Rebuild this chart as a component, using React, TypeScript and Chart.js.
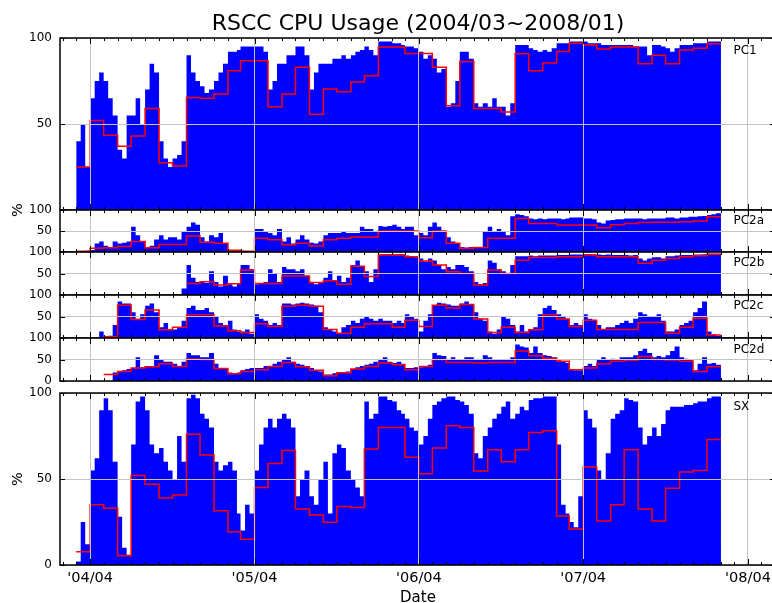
import React, { useEffect, useRef } from 'react';
import { Chart, registerables } from 'chart.js';

Chart.register(...registerables);

// ---------- categories / ticks ----------
const MONTHS = [
  '2004-03', '2004-04', '2004-05', '2004-06', '2004-07', '2004-08', '2004-09', '2004-10', '2004-11', '2004-12',
  '2005-01', '2005-02', '2005-03', '2005-04', '2005-05', '2005-06', '2005-07', '2005-08', '2005-09', '2005-10', '2005-11', '2005-12',
  '2006-01', '2006-02', '2006-03', '2006-04', '2006-05', '2006-06', '2006-07', '2006-08', '2006-09', '2006-10', '2006-11', '2006-12',
  '2007-01', '2007-02', '2007-03', '2007-04', '2007-05', '2007-06', '2007-07', '2007-08', '2007-09', '2007-10', '2007-11', '2007-12',
  '2008-01',
];
const DATA_END = '2008-02-01';
const X_MIN = '2004-01-25';
const X_MAX = '2008-05-31';
const YEAR_TICKS = ['2004-04-01', '2005-04-01', '2006-04-01', '2007-04-01', '2008-04-01'];
const YEAR_TICK_LABELS = ["'04/04", "'05/04", "'06/04", "'07/04", "'08/04"];
const Y_TICKS = [0, 50, 100];
const TITLE = 'RSCC CPU Usage (2004/03~2008/01)';
const X_TITLE = 'Date';
const Y_TITLE = '%';

// ---------- series: monthly averages (red) ----------
const PC1_MONTHLY = [
  25, 52, 43.5, 37, 43, 59, 27.5, 25.6, 65.4, 65,
  67.4, 81, 86.8, 86.8, 60, 67.4, 83, 55.7, 70.3, 68.7, 74.4, 78,
  94.8, 94.8, 91, 91, 83, 60.6, 86.4, 59, 59, 57, 90.9, 81,
  85.4, 92.2, 97, 96, 93.6, 94.8, 94.8, 85, 90, 85, 93, 94,
  96.7,
];
const PC2A_MONTHLY = [
  2, 9, 10, 13, 25, 10, 18, 18, 38, 23,
  21, 4, 2, 33, 29, 17, 21, 14, 29, 33, 36, 36,
  50, 50, 50, 34, 50, 21, 9, 11, 33, 33, 80, 68,
  68, 64, 64, 64, 58, 65, 68, 70, 71, 71, 72, 74,
  84,
];
const PC2B_MONTHLY = [
  null, null, null, null, null, null, null, null, 27, 31,
  23, 26, 58, 27, 27, 44, 44, 29, 33, 25, 67, 43,
  93, 93, 89, 79, 70, 54, 50, 23, 58, 50, 81, 87,
  87, 89, 89, 93, 89, 89, 89, 74, 81, 85, 89, 91,
  95,
];
const PC2C_MONTHLY = [
  null, null, 3, 76, 43, 65, 19, 25, 54, 54,
  28, 17, 13, 33, 27, 74, 76, 74, 20, 11, 25, 33,
  33, 25, 41, 27, 76, 70, 78, 44, 13, 25, 13, 19,
  54, 44, 27, 41, 20, 20, 20, 36, 36, 11, 25, 46,
  7,
];
const PC2D_MONTHLY = [
  null, null, 15, 22, 30, 33, 40, 34, 51, 50,
  29, 17, 22, 26, 34, 43, 33, 25, 12, 19, 28, 34,
  42, 38, 26, 34, 50, 43, 43, 42, 43, 43, 70, 59,
  53, 46, 26, 30, 40, 46, 48, 57, 50, 49, 46, 22,
  33,
];
const SX_MONTHLY = [
  7.7, 35, 33, 5.4, 52, 47, 39, 40.7, 76, 64,
  31.6, 19.4, 15, 45, 59, 66.5, 32.6, 29, 24.8, 34, 33.5, 67.4,
  80, 80, 62.6, 53, 68, 81, 80, 54.6, 67, 60, 67, 77,
  78, 28.5, 21, 57, 25.6, 35, 67, 32.6, 25.6, 44.6, 54, 55,
  73,
];

// ---------- series: ten-day usage (blue), 3 values per month ----------
const PC1_TENDAY = [
  40, 50, 25, 65, 75, 80, 75, 65, 55, 35, 30, 55, 55, 65, 50, 70, 85, 80, 40, 30, 25, 30, 32, 40, 90, 80, 75, 72, 68, 70,
  75, 80, 85, 92, 92, 93, 95, 95, 95, 95, 95, 92, 70, 75, 85, 85, 90, 90, 95, 95, 90, 70, 80, 85, 85, 85, 88, 88, 90, 88, 90, 92, 93, 95, 93, 90,
  98, 98, 98, 97, 97, 96, 95, 95, 94, 92, 88, 90, 88, 80, 82, 60, 62, 75, 92, 92, 88, 62, 60, 62, 60, 65, 60, 60, 55, 62, 96, 96, 96, 94, 93, 92,
  93, 92, 94, 97, 97, 97, 98, 98, 98, 98, 97, 97, 97, 96, 96, 96, 96, 96, 96, 96, 95, 95, 95, 90, 96, 96, 95, 94, 92, 94, 96, 96, 96, 97, 97, 97,
  98, 98, 98,
];
const PC2A_TENDAY = [
  1, 2, 3, 5, 20, 25, 15, 12, 25, 20, 22, 25, 60, 40, 25, 12, 15, 30, 40, 30, 35, 35, 30, 50, 60, 70, 65, 35, 25, 40,
  35, 45, 20, 5, 3, 2, 3, 2, 2, 55, 55, 50, 45, 40, 55, 25, 35, 20, 30, 40, 30, 22, 20, 25, 40, 45, 45, 45, 50, 45, 45, 45, 60, 55, 55, 50,
  62, 60, 62, 65, 60, 55, 60, 60, 40, 45, 40, 60, 70, 60, 50, 35, 25, 20, 12, 10, 12, 12, 12, 50, 60, 50, 55, 50, 40, 85, 90, 88, 85, 80, 78, 80,
  78, 80, 80, 80, 78, 80, 82, 82, 82, 80, 80, 78, 70, 68, 75, 76, 78, 78, 80, 80, 80, 80, 78, 80, 80, 80, 80, 82, 82, 80, 82, 82, 84, 84, 85, 86,
  88, 90, 92,
];
const PC2B_TENDAY = [
  0, 0, 0, 0, 0, 0, 0, 0, 0, 0, 0, 0, 0, 0, 0, 0, 0, 0, 0, 0, 0, 0, 0, 15, 70, 40, 30, 30, 28, 55,
  30, 20, 45, 25, 20, 28, 70, 70, 60, 25, 28, 30, 60, 50, 30, 65, 60, 60, 55, 60, 45, 30, 25, 30, 40, 55, 35, 45, 30, 40, 70, 80, 65, 55, 30, 60,
  95, 95, 95, 95, 95, 95, 92, 90, 88, 85, 78, 85, 80, 70, 60, 65, 60, 70, 70, 65, 55, 30, 25, 28, 80, 75, 60, 55, 50, 70, 90, 90, 90, 92, 90, 92,
  92, 92, 92, 93, 93, 93, 94, 94, 94, 95, 95, 95, 94, 93, 94, 93, 93, 93, 93, 92, 93, 85, 80, 85, 88, 88, 85, 90, 90, 92, 93, 93, 93, 94, 94, 95,
  96, 96, 96,
];
const PC2C_TENDAY = [
  0, 0, 0, 0, 0, 15, 0, 5, 30, 85, 80, 80, 60, 45, 55, 75, 80, 60, 25, 35, 20, 20, 25, 40, 70, 75, 65, 65, 70, 60,
  50, 35, 30, 40, 20, 15, 15, 20, 10, 55, 45, 40, 30, 35, 30, 80, 80, 78, 80, 82, 80, 78, 75, 60, 25, 20, 15, 10, 25, 30, 40, 35, 45, 50, 45, 40,
  45, 40, 40, 35, 40, 35, 55, 50, 45, 15, 40, 55, 75, 82, 80, 78, 75, 75, 80, 85, 78, 60, 45, 40, 15, 10, 20, 50, 45, 30, 15, 30, 15, 20, 25, 55,
  70, 75, 65, 55, 50, 45, 30, 35, 30, 55, 45, 40, 30, 20, 25, 25, 30, 35, 40, 35, 45, 60, 55, 50, 50, 55, 40, 15, 15, 20, 30, 35, 40, 60, 70, 85,
  15, 8, 5,
];
const PC2D_TENDAY = [
  0, 0, 0, 0, 0, 0, 0, 0, 20, 22, 25, 28, 30, 55, 32, 35, 35, 60, 50, 45, 45, 40, 35, 45, 65, 60, 60, 55, 55, 65,
  40, 30, 30, 20, 18, 20, 25, 28, 30, 30, 30, 35, 35, 40, 45, 50, 55, 45, 40, 38, 35, 30, 25, 22, 15, 15, 18, 20, 20, 22, 28, 32, 35, 38, 40, 45,
  50, 55, 45, 42, 45, 40, 30, 30, 32, 32, 35, 38, 65, 60, 58, 50, 55, 50, 50, 55, 55, 50, 50, 60, 55, 50, 50, 50, 50, 55, 85, 80, 78, 65, 80, 65,
  60, 58, 55, 48, 45, 42, 28, 25, 25, 35, 40, 35, 50, 55, 50, 52, 50, 55, 55, 55, 60, 70, 75, 65, 55, 58, 55, 60, 70, 80, 55, 52, 50, 25, 40, 55,
  40, 42, 38,
];
const SX_TENDAY = [
  2, 25, 12, 55, 62, 90, 97, 90, 60, 28, 10, 6, 70, 95, 98, 90, 70, 65, 68, 60, 55, 50, 75, 60, 97, 99, 97, 88, 85, 80,
  60, 55, 58, 60, 55, 30, 20, 35, 30, 55, 70, 80, 85, 80, 85, 88, 85, 80, 40, 50, 55, 40, 35, 50, 60, 30, 65, 70, 68, 55, 50, 45, 40, 95, 85, 88,
  98, 98, 96, 95, 90, 88, 85, 80, 78, 70, 75, 85, 93, 95, 97, 98, 98, 96, 95, 93, 88, 65, 62, 75, 80, 85, 88, 92, 95, 85, 88, 92, 90, 96, 97, 97,
  98, 98, 98, 70, 35, 30, 25, 22, 40, 90, 85, 80, 55, 50, 65, 85, 88, 90, 97, 96, 95, 80, 70, 75, 80, 75, 82, 90, 92, 92, 92, 93, 93, 94, 95, 95,
  97, 98, 98,
];

// ---------- layout (pixels) ----------
const CANVAS_W = 780;
const CANVAS_H = 603;
const PLOT_LEFT = 60;
const PLOT_RIGHT = 775;
const X_AXIS_H = 38;
const FONT = "'DejaVu Sans', 'Liberation Sans', sans-serif";
const GRID_COLOR = '#c4c4c4';

const PANELS = [
  { name: 'PC1', top: 38, bottom: 210, tenDay: PC1_TENDAY, monthly: PC1_MONTHLY, yLabels: [50, 100], labelY: 50 },
  { name: 'PC2a', top: 210, bottom: 252, tenDay: PC2A_TENDAY, monthly: PC2A_MONTHLY, yLabels: [50, 100], labelY: 220 },
  { name: 'PC2b', top: 252, bottom: 295, tenDay: PC2B_TENDAY, monthly: PC2B_MONTHLY, yLabels: [50, 100], labelY: 261.5 },
  { name: 'PC2c', top: 295, bottom: 338, tenDay: PC2C_TENDAY, monthly: PC2C_MONTHLY, yLabels: [50, 100], labelY: 305 },
  { name: 'PC2d', top: 338, bottom: 381, tenDay: PC2D_TENDAY, monthly: PC2D_MONTHLY, yLabels: [0, 50, 100], labelY: 348.5 },
  { name: 'SX', top: 393, bottom: 565, tenDay: SX_TENDAY, monthly: SX_MONTHLY, yLabels: [0, 50, 100], labelY: 406 },
];

// ---------- helpers ----------
const DAY_MS = 86400000;
const EPOCH = Date.UTC(2004, 2, 1);
function dayOf(s: string): number {
  const [y, m, d] = s.split('-').map(Number);
  return Math.round((Date.UTC(y, m - 1, d || 1) - EPOCH) / DAY_MS);
}

function tenDayPoints(values: number[]) {
  const pts: { x: number; y: number }[] = [];
  MONTHS.forEach((m, i) => {
    const start = dayOf(m);
    for (let k = 0; k < 3; k++) pts.push({ x: start + 10 * k, y: values[i * 3 + k] });
  });
  pts.push({ x: dayOf(DATA_END), y: values[values.length - 1] });
  return pts;
}

function monthPoints(values: (number | null)[]) {
  const pts: { x: number; y: number | null }[] = MONTHS.map((m, i) => ({ x: dayOf(m), y: values[i] }));
  pts.push({ x: dayOf(DATA_END), y: values[values.length - 1] });
  return pts;
}

const framePlugin = {
  id: 'panelFrame',
  afterDraw(chart: any) {
    const { ctx, chartArea: a } = chart;
    const xs = chart.scales.x;
    const ys = chart.scales.y;
    ctx.save();
    ctx.strokeStyle = '#000';
    ctx.lineWidth = 1;
    ctx.beginPath();
    for (let i = 0; i < 60; i++) {
      const d = (Date.UTC(2004, i, 1) - EPOCH) / DAY_MS;
      const px = Math.round(xs.getPixelForValue(d)) + 0.5;
      if (px < a.left || px > a.right) continue;
      const len = i % 12 === 3 ? 6 : 3;
      ctx.moveTo(px, a.top);
      ctx.lineTo(px, a.top + len);
      ctx.moveTo(px, a.bottom);
      ctx.lineTo(px, a.bottom - len);
    }
    Y_TICKS.forEach((v) => {
      const py = Math.round(ys.getPixelForValue(v)) + 0.5;
      ctx.moveTo(a.left, py);
      ctx.lineTo(a.left + 5, py);
      ctx.moveTo(a.right, py);
      ctx.lineTo(a.right - 5, py);
    });
    ctx.stroke();
    ctx.lineWidth = 1.5;
    ctx.strokeRect(a.left, a.top, a.right - a.left, a.bottom - a.top);
    ctx.restore();
  },
};

function makeConfig(p: (typeof PANELS)[number], isBottom: boolean): any {
  const tickDays = YEAR_TICKS.map(dayOf);
  return {
    type: 'line',
    data: {
      datasets: [
        {
          data: tenDayPoints(p.tenDay),
          stepped: true,
          fill: 'origin',
          backgroundColor: '#0000ff',
          borderColor: '#0000ff',
          borderWidth: 0,
          pointRadius: 0,
          order: 2,
        },
        {
          data: monthPoints(p.monthly),
          stepped: true,
          fill: false,
          borderColor: '#ff0000',
          borderWidth: 1.5,
          pointRadius: 0,
          order: 1,
        },
      ],
    },
    options: {
      responsive: false,
      animation: false,
      events: [],
      layout: {
        padding: {
          left: 0,
          right: CANVAS_W - PLOT_RIGHT,
          top: p.top,
          bottom: CANVAS_H - p.bottom - (isBottom ? X_AXIS_H : 0),
        },
      },
      plugins: { legend: { display: false }, tooltip: { enabled: false }, title: { display: false } },
      scales: {
        x: {
          type: 'linear',
          position: 'bottom',
          min: dayOf(X_MIN),
          max: dayOf(X_MAX),
          afterBuildTicks: (s: any) => {
            s.ticks = tickDays.map((v) => ({ value: v }));
          },
          afterFit: (s: any) => {
            s.height = isBottom ? X_AXIS_H : 0;
            s.paddingLeft = 0;
            s.paddingRight = 0;
          },
          grid: { color: GRID_COLOR, lineWidth: 1, drawTicks: false, z: 1 },
          border: { display: false },
          ticks: {
            display: isBottom,
            autoSkip: false,
            maxRotation: 0,
            padding: 5,
            color: '#000',
            font: { family: FONT, size: 14.5 },
            callback: (v: number) => {
              const i = tickDays.indexOf(v);
              return i >= 0 ? YEAR_TICK_LABELS[i] : '';
            },
          },
        },
        y: {
          type: 'linear',
          min: 0,
          max: 100,
          afterBuildTicks: (s: any) => {
            s.ticks = Y_TICKS.map((v) => ({ value: v }));
          },
          afterFit: (s: any) => {
            s.width = PLOT_LEFT;
            s.paddingTop = 0;
            s.paddingBottom = 0;
          },
          grid: { color: GRID_COLOR, lineWidth: 1, drawTicks: false, z: 1 },
          border: { display: false },
          ticks: {
            padding: 8,
            color: '#000',
            font: { family: FONT, size: 12 },
            callback: (v: number) => (p.yLabels.includes(v) ? String(v) : ''),
          },
        },
      },
    },
    plugins: [framePlugin],
  };
}

export default function App() {
  const refs = useRef<(HTMLCanvasElement | null)[]>([]);

  useEffect(() => {
    const charts = PANELS.map(
      (p, i) => new Chart(refs.current[i] as HTMLCanvasElement, makeConfig(p, i === PANELS.length - 1))
    );
    return () => charts.forEach((c) => c.destroy());
  }, []);

  const text = (extra: React.CSSProperties): React.CSSProperties => ({
    position: 'absolute',
    fontFamily: FONT,
    lineHeight: 1,
    whiteSpace: 'nowrap',
    color: '#000',
    ...extra,
  });

  return (
    <div
      style={{
        position: 'fixed',
        left: 0,
        top: 0,
        width: 772,
        height: 603,
        overflow: 'hidden',
        background: '#fff',
      }}
    >
      {PANELS.map((p, i) => (
        <canvas
          key={p.name}
          ref={(el) => {
            refs.current[i] = el;
          }}
          width={CANVAS_W}
          height={CANVAS_H}
          style={{ position: 'absolute', left: 0, top: 0, width: CANVAS_W, height: CANVAS_H }}
        />
      ))}
      <div style={text({ left: 418, top: 23, fontSize: 22, transform: 'translate(-50%, -50%)' })}>{TITLE}</div>
      <div style={text({ left: 418, top: 597, fontSize: 15, transform: 'translate(-50%, -50%)' })}>{X_TITLE}</div>
      <div style={text({ left: 17, top: 210, fontSize: 14.5, transform: 'translate(-50%, -50%) rotate(-90deg)' })}>
        {Y_TITLE}
      </div>
      <div style={text({ left: 17, top: 479, fontSize: 14.5, transform: 'translate(-50%, -50%) rotate(-90deg)' })}>
        {Y_TITLE}
      </div>
      {PANELS.map((p) => (
        <div key={'lbl' + p.name} style={text({ left: 733.5, top: p.labelY, fontSize: 12, transform: 'translateY(-50%)' })}>
          {p.name}
        </div>
      ))}
    </div>
  );
}
